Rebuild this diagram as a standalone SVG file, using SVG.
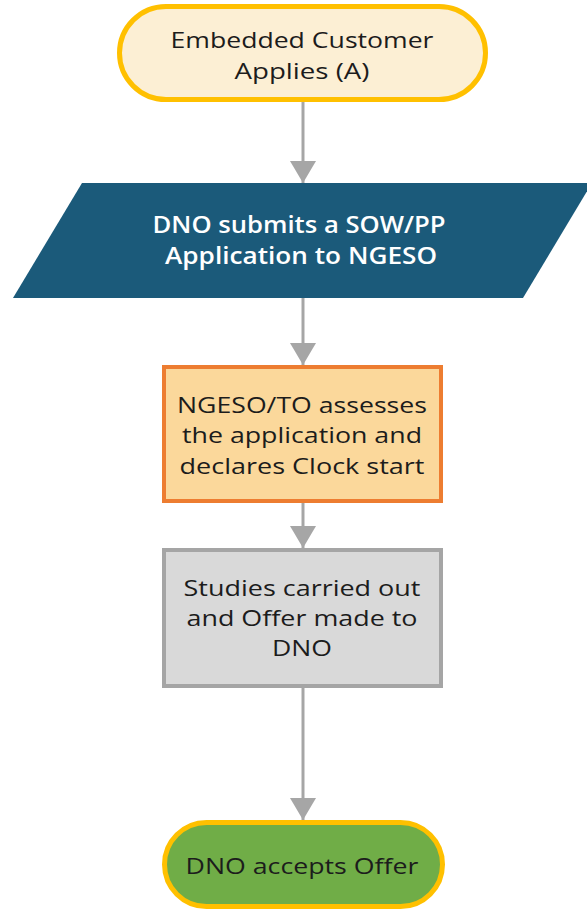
<svg xmlns="http://www.w3.org/2000/svg" width="587" height="910" viewBox="0 0 587 910">
<style>
text{font-family:"Open Sans","Noto Sans","Liberation Sans",sans-serif;font-size:22.5px;text-anchor:middle;fill:#1c1c1c}
.w{fill:#ffffff;font-weight:600}
.conn{stroke:#a6a6a6;stroke-width:3;fill:none}
</style>
<defs>
<marker id="ah" markerUnits="userSpaceOnUse" viewBox="0 0 22 26" refX="22" refY="13" markerWidth="22" markerHeight="26" orient="auto">
<path d="M0,0 L22,13 L0,26 z" fill="#a6a6a6"/>
</marker>
</defs>
<g id="connectors">
<line class="conn" x1="303" y1="102" x2="303" y2="183" marker-end="url(#ah)"/>
<line class="conn" x1="303" y1="298" x2="303" y2="365" marker-end="url(#ah)"/>
<line class="conn" x1="303" y1="503" x2="303" y2="548" marker-end="url(#ah)"/>
<line class="conn" x1="303" y1="688" x2="303" y2="820" marker-end="url(#ah)"/>
</g>
<g id="start">
<rect x="119.5" y="6.5" width="366" height="93" rx="46.5" fill="#fcefd4" stroke="#ffc000" stroke-width="5"/>
<text x="302" y="48" textLength="263" lengthAdjust="spacingAndGlyphs">Embedded Customer</text>
<text x="302" y="79" textLength="135" lengthAdjust="spacingAndGlyphs">Applies (A)</text>
</g>
<g id="submit">
<polygon points="82,183 592,183 523,298 13,298" fill="#1b5a7a"/>
<text class="w" x="299" y="233" textLength="293" lengthAdjust="spacingAndGlyphs">DNO submits a SOW/PP</text>
<text class="w" x="301" y="264" textLength="272" lengthAdjust="spacingAndGlyphs">Application to NGESO</text>
</g>
<g id="assess">
<rect x="164" y="367" width="277" height="134" fill="#fbd89b" stroke="#ed7d31" stroke-width="4"/>
<text x="302" y="413" textLength="250" lengthAdjust="spacingAndGlyphs">NGESO/TO assesses</text>
<text x="302" y="443" textLength="240" lengthAdjust="spacingAndGlyphs">the application and</text>
<text x="302" y="474" textLength="245" lengthAdjust="spacingAndGlyphs">declares Clock start</text>
</g>
<g id="studies">
<rect x="164" y="550" width="277" height="136" fill="#d9d9d9" stroke="#a5a5a5" stroke-width="4"/>
<text x="302" y="596" textLength="237" lengthAdjust="spacingAndGlyphs">Studies carried out</text>
<text x="302" y="626" textLength="231" lengthAdjust="spacingAndGlyphs">and Offer made to</text>
<text x="302" y="656" textLength="60" lengthAdjust="spacingAndGlyphs">DNO</text>
</g>
<g id="accept">
<rect x="164.5" y="822.5" width="278" height="84" rx="42" fill="#70ad47" stroke="#ffc000" stroke-width="5"/>
<text x="302" y="874" textLength="233" lengthAdjust="spacingAndGlyphs">DNO accepts Offer</text>
</g>
</svg>
